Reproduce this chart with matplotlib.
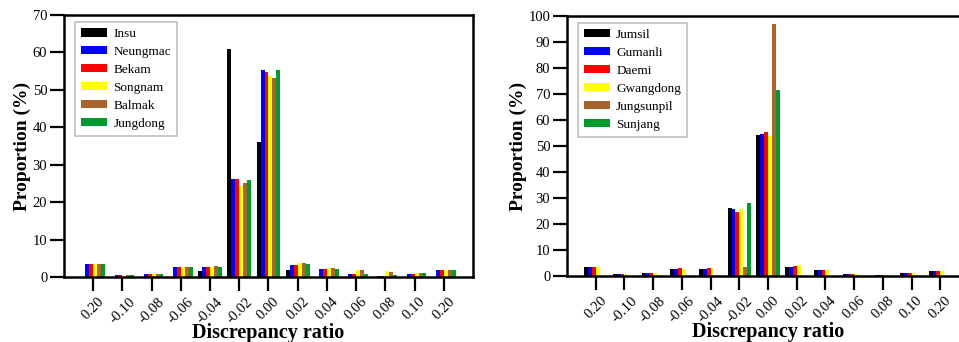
import matplotlib

matplotlib.use("Agg")

import matplotlib.pyplot as plt
import numpy as np

plt.rcParams["font.family"] = ["Liberation Serif", "DejaVu Serif"]

ratios = ["0.20", "-0.10", "-0.08", "-0.06", "-0.04", "-0.02", "0.00",
          "0.02", "0.04", "0.06", "0.08", "0.10", "0.20"]

colors = ["#000000", "#0000ff", "#ff0000", "#ffff00", "#a9642c", "#009b2e"]

# upper basin stations
left_names = ["Insu", "Neungmac", "Bekam", "Songnam", "Balmak", "Jungdong"]
insu = [0, 0, 0, 0, 1.6, 60.8, 36.2, 1.9, 0, 0, 0, 0, 0]
neungmac = [3.4, 0.5, 0.8, 2.7, 2.7, 26.3, 55.2, 3.2, 2.1, 0.8, 0.3, 0.8, 1.9]
bekam = [3.4, 0.5, 0.8, 2.7, 2.7, 26.3, 54.9, 3.2, 2.1, 0.8, 0.3, 0.8, 1.9]
songnam = [3.4, 0.4, 0.8, 2.7, 2.7, 24.2, 53.6, 3.7, 2.4, 1.9, 1.6, 1.1, 1.9]
balmak = [3.4, 0.5, 0.8, 2.7, 2.9, 25.0, 53.3, 3.7, 2.4, 1.9, 1.3, 1.1, 1.9]
jungdong = [3.4, 0.5, 0.8, 2.7, 2.7, 25.8, 55.2, 3.5, 2.1, 0.8, 0.5, 1.1, 1.9]

# lower basin stations
right_names = ["Jumsil", "Gumanli", "Daemi", "Gwangdong", "Jungsunpil", "Sunjang"]
jumsil = [3.4, 0.6, 1.0, 2.6, 2.7, 26.3, 54.4, 3.5, 2.3, 0.6, 0.0, 1.1, 1.9]
gumanli = [3.4, 0.6, 1.0, 2.6, 2.7, 25.9, 54.8, 3.5, 2.3, 0.6, 0.3, 1.1, 1.9]
daemi = [3.4, 0.6, 1.0, 3.1, 3.1, 24.8, 55.2, 3.8, 2.3, 0.6, 0.3, 1.1, 1.9]
gwangdong = [3.4, 0.6, 1.0, 2.6, 3.1, 25.9, 53.8, 4.2, 2.3, 0.6, 0.3, 1.1, 1.9]
jungsunpil = [0, 0, 0, 0, 0, 3.3, 96.8, 0, 0, 0, 0, 0, 0]
sunjang = [0, 0, 0, 0, 0, 28.2, 71.4, 0, 0, 0, 0, 0, 0]

W, H = 959, 342
fig = plt.figure(figsize=(W / 100, H / 100), dpi=100)
fig.set_facecolor("white")


def panel(rect, names, series, ymax):
    ax = fig.add_axes(rect)
    x = np.arange(len(ratios))
    width = 0.135
    for i, (name, vals) in enumerate(zip(names, series)):
        ax.bar(x + (i - 2.5) * width, vals, width, color=colors[i],
               label=name, linewidth=0)
    ax.set_xlim(-1, len(ratios))
    ax.set_ylim(0, ymax)
    ax.set_xticks(x)
    ax.set_xticklabels(ratios, rotation=45, fontsize=10.5)
    ax.set_yticks(np.arange(0, ymax + 1, 10))
    ax.tick_params(axis="y", labelsize=10.5, length=10, width=1.6, pad=2)
    ax.tick_params(axis="x", length=10, width=1.6, pad=3)
    for s in ax.spines.values():
        s.set_linewidth(1.8)
    ax.set_xlabel("Discrepancy ratio", fontsize=14.5, fontweight="bold", labelpad=-2)
    ax.set_ylabel("Proportion (%)", fontsize=14, fontweight="bold", labelpad=1)
    leg = ax.legend(loc="upper left", bbox_to_anchor=(0.027, 0.973), fontsize=9.5,
                    handlelength=2.0, handleheight=0.6, labelspacing=0.45,
                    borderpad=0.45, handletextpad=0.45, borderaxespad=0,
                    fancybox=False, edgecolor="#c0c0c0", framealpha=1)
    leg.get_frame().set_linewidth(1.2)
    return ax


panel([64 / W, 1 - 277 / H, 409 / W, 262 / H], left_names,
      [insu, neungmac, bekam, songnam, balmak, jungdong], 70)
panel([567 / W, 1 - 276 / H, 402 / W, 260 / H], right_names,
      [jumsil, gumanli, daemi, gwangdong, jungsunpil, sunjang], 100)

fig.savefig("out.png", dpi=100)
